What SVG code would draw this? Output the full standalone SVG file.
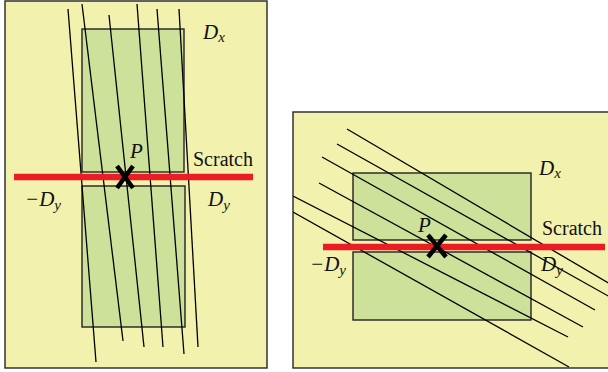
<svg xmlns="http://www.w3.org/2000/svg" width="608" height="372" viewBox="0 0 608 372">
<style>
.panel{fill:#f2f2ae;stroke:#333;stroke-width:1.5}
.box{fill:#cde19b;stroke:#222;stroke-width:1.4}
.ln{stroke:#000;stroke-width:1.3;fill:none}
.scr{stroke:#ec1c24;stroke-width:6.5}
.xm{stroke:#000;stroke-width:4.5;stroke-linecap:butt}
text{font-family:"Liberation Serif","Times New Roman",serif;font-size:20px;fill:#111}
.it{font-style:italic;font-size:21px}
.sub{font-size:15px;font-style:italic}
</style>
<defs>
<clipPath id="cr"><rect x="293" y="112" width="315" height="256"/></clipPath>
</defs>
<g id="left-panel">
<rect class="panel" x="5" y="1" width="262" height="367"/>
<rect class="box" x="82" y="29" width="102" height="143"/>
<rect class="box" x="82" y="186" width="103" height="141"/>
<g id="left-lines">
<line class="ln" x1="68" y1="9" x2="96" y2="362"/>
<line class="ln" x1="82" y1="4" x2="123" y2="341"/>
<line class="ln" x1="109" y1="15" x2="144" y2="347"/>
<line class="ln" x1="137" y1="4" x2="163" y2="347"/>
<line class="ln" x1="157" y1="9" x2="184" y2="354"/>
<line class="ln" x1="179" y1="9" x2="198" y2="347"/>
</g>
<line class="scr" x1="14" y1="177" x2="253" y2="177"/>
<g class="xm"><line x1="117" y1="166" x2="133" y2="188"/><line x1="133" y1="166" x2="117" y2="188"/></g>
<text class="it" x="130" y="158">P</text>
<text x="193" y="166">Scratch</text>
<text class="it" x="203" y="39">D<tspan class="sub" dy="3">x</tspan></text>
<text class="it" x="25" y="206">−D<tspan class="sub" dy="4">y</tspan></text>
<text class="it" x="208" y="206">D<tspan class="sub" dy="4">y</tspan></text>
</g>
<g id="right-panel">
<rect class="panel" x="293" y="112" width="320" height="256"/>
<rect class="box" x="353" y="173" width="178" height="67"/>
<rect class="box" x="353" y="252" width="178" height="68"/>
<g id="right-lines" clip-path="url(#cr)">
<line class="ln" x1="347" y1="129" x2="610" y2="284"/>
<line class="ln" x1="337" y1="144" x2="610" y2="297"/>
<line class="ln" x1="322" y1="157" x2="595" y2="310"/>
<line class="ln" x1="319" y1="183" x2="583" y2="327"/>
<line class="ln" x1="293" y1="196" x2="568" y2="337"/>
<line class="ln" x1="293" y1="212" x2="569" y2="367"/>
</g>
<line class="scr" x1="323" y1="247" x2="605" y2="247"/>
<g class="xm"><line x1="428" y1="235" x2="446" y2="257"/><line x1="446" y1="235" x2="428" y2="257"/></g>
<text class="it" x="418" y="232">P</text>
<text x="542" y="235">Scratch</text>
<text class="it" x="539" y="175">D<tspan class="sub" dy="3">x</tspan></text>
<text class="it" x="310" y="271">−D<tspan class="sub" dy="4">y</tspan></text>
<text class="it" x="541" y="271">D<tspan class="sub" dy="4">y</tspan></text>
</g>
</svg>
